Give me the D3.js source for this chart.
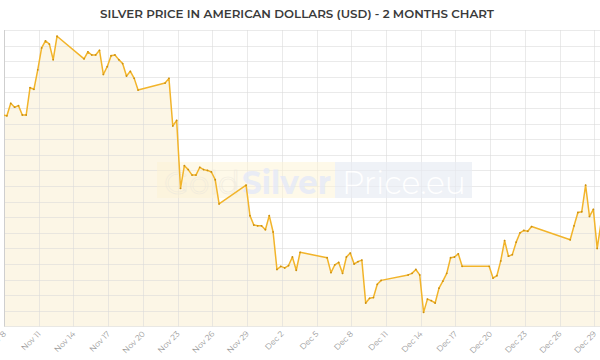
<!DOCTYPE html>
<html>
<head>
<meta charset="utf-8">
<script src="https://cdn.jsdelivr.net/npm/d3@7"></script>
<style>
  html, body { margin: 0; padding: 0; background: #fff; }
  svg { display: block; }
</style>
</head>
<body>
<svg id="chart" width="600" height="360"></svg>
<script>
const title = "SILVER PRICE IN AMERICAN DOLLARS (USD) - 2 MONTHS CHART";

const times = [
  "2021-11-07T22:00","2021-11-08T06:00","2021-11-08T14:00","2021-11-08T22:00","2021-11-09T06:00",
  "2021-11-09T14:00","2021-11-09T22:00","2021-11-10T06:00","2021-11-10T14:00","2021-11-10T22:00",
  "2021-11-11T06:00","2021-11-11T14:00","2021-11-11T22:00","2021-11-12T06:00","2021-11-12T14:00",
  "2021-11-14T22:00","2021-11-15T06:00","2021-11-15T14:00","2021-11-15T22:00","2021-11-16T06:00",
  "2021-11-16T14:00","2021-11-16T22:00","2021-11-17T06:00","2021-11-17T14:00","2021-11-17T22:00",
  "2021-11-18T06:00","2021-11-18T14:00","2021-11-18T22:00","2021-11-19T06:00","2021-11-19T14:00",
  "2021-11-21T22:00","2021-11-22T06:00","2021-11-22T14:00","2021-11-22T22:00","2021-11-23T06:00",
  "2021-11-23T14:00","2021-11-23T22:00","2021-11-24T06:00","2021-11-24T14:00","2021-11-24T22:00",
  "2021-11-25T06:00","2021-11-25T14:00","2021-11-25T22:00","2021-11-26T06:00","2021-11-26T14:00",
  "2021-11-28T22:00","2021-11-29T06:00","2021-11-29T14:00","2021-11-29T22:00","2021-11-30T06:00",
  "2021-11-30T14:00","2021-11-30T22:00","2021-12-01T06:00","2021-12-01T14:00","2021-12-01T22:00",
  "2021-12-02T06:00","2021-12-02T14:00","2021-12-02T22:00","2021-12-03T06:00","2021-12-03T14:00",
  "2021-12-05T22:00","2021-12-06T06:00","2021-12-06T14:00","2021-12-06T22:00","2021-12-07T06:00",
  "2021-12-07T14:00","2021-12-07T22:00","2021-12-08T06:00","2021-12-08T14:00","2021-12-08T22:00",
  "2021-12-09T06:00","2021-12-09T14:00","2021-12-09T22:00","2021-12-10T06:00","2021-12-10T14:00",
  "2021-12-12T22:00","2021-12-13T06:00","2021-12-13T14:00","2021-12-13T22:00","2021-12-14T06:00",
  "2021-12-14T14:00","2021-12-14T22:00","2021-12-15T06:00","2021-12-15T14:00","2021-12-15T22:00",
  "2021-12-16T06:00","2021-12-16T14:00","2021-12-16T22:00","2021-12-17T06:00","2021-12-17T14:00",
  "2021-12-19T22:00","2021-12-20T06:00","2021-12-20T14:00","2021-12-20T22:00","2021-12-21T06:00",
  "2021-12-21T14:00","2021-12-21T22:00","2021-12-22T06:00","2021-12-22T14:00","2021-12-22T22:00",
  "2021-12-23T06:00","2021-12-23T14:00",
  "2021-12-26T22:00","2021-12-27T06:00","2021-12-27T14:00","2021-12-27T22:00","2021-12-28T06:00",
  "2021-12-28T14:00","2021-12-28T22:00","2021-12-29T06:00","2021-12-29T14:00"
];

const prices = [
  23.91,23.90,24.06,24.01,24.03,
  23.91,23.91,24.26,24.24,24.49,
  24.77,24.86,24.82,24.62,24.92,
  24.63,24.72,24.68,24.68,24.74,
  24.43,24.53,24.67,24.68,24.62,
  24.57,24.41,24.47,24.38,24.23,
  24.32,24.38,23.77,23.84,22.97,
  23.26,23.21,23.14,23.14,23.24,
  23.21,23.20,23.18,23.08,22.77,
  23.01,22.62,22.50,22.49,22.49,
  22.44,22.62,22.41,21.93,21.97,
  21.95,21.98,22.09,21.92,22.15,
  22.08,21.89,21.99,22.02,21.88,
  22.09,22.14,22.00,22.03,22.05,
  21.50,21.56,21.57,21.74,21.79,
  21.86,21.88,21.93,21.86,21.38,
  21.55,21.53,21.50,21.69,21.78,
  21.88,22.08,22.09,22.13,21.97,
  21.97,21.82,21.85,22.04,22.30,
  22.10,22.12,22.28,22.40,22.43,
  22.42,22.48,
  22.31,22.49,22.66,22.67,23.01,
  22.61,22.70,22.20,22.53
];

const tickDates = ["2021-11-08","2021-11-11","2021-11-14","2021-11-17","2021-11-20","2021-11-23",
  "2021-11-26","2021-11-29","2021-12-02","2021-12-05","2021-12-08","2021-12-11","2021-12-14",
  "2021-12-17","2021-12-20","2021-12-23","2021-12-26","2021-12-29"];
const tickLabels = ["Nov 8","Nov 11","Nov 14","Nov 17","Nov 20","Nov 23","Nov 26","Nov 29",
  "Dec 2","Dec 5","Dec 8","Dec 11","Dec 14","Dec 17","Dec 20","Dec 23","Dec 26","Dec 29"];

const yMin = 21.2, yMax = 25.0, yStep = 0.2;

(function () {
const parseT = d3.utcParse("%Y-%m-%dT%H:%M");
const parseD = d3.utcParse("%Y-%m-%d");
const data = times.map((t, i) => ({ t: parseT(t), v: prices[i] }));
const ticks = tickDates.map(parseD);

const svg = d3.select("#chart");
const pLeft = 4, pTop = 30, pBottom = 326.4;

const x = d3.scaleUtc()
  .domain([ticks[0], ticks[ticks.length - 1]])
  .range([pLeft, 594.3]);
const y = d3.scaleLinear().domain([yMin, yMax]).range([pBottom, pTop]);

const yTicks = d3.range(0, Math.round((yMax - yMin) / yStep) + 1).map(i => yMin + i * yStep);

svg.append("defs").append("clipPath").attr("id", "clip")
  .append("rect").attr("x", pLeft).attr("y", 0).attr("width", 600 - pLeft).attr("height", pBottom + 1);

// Title
svg.append("text")
  .attr("x", 297).attr("y", 17.5)
  .attr("text-anchor", "middle")
  .attr("font-family", "Montserrat, 'Open Sans', 'Noto Sans', sans-serif")
  .attr("font-weight", 600)
  .attr("font-size", 11.6)
  .attr("fill", "#3a3a3a")
  .attr("textLength", 394)
  .attr("lengthAdjust", "spacingAndGlyphs")
  .text(title);

// Area
const area = d3.area().x(d => x(d.t)).y0(pBottom).y1(d => y(d.v));
svg.append("path").datum(data)
  .attr("clip-path", "url(#clip)")
  .attr("d", area)
  .attr("fill", "#fcf6e6");

// Grid
const grid = svg.append("g");
grid.selectAll("line.h").data(yTicks).join("line")
  .attr("x1", pLeft).attr("x2", 600)
  .attr("y1", d => Math.round(y(d)) + 0.5).attr("y2", d => Math.round(y(d)) + 0.5)
  .attr("stroke", "#d9d9d9").attr("stroke-opacity", 0.55).attr("stroke-width", 1);
grid.selectAll("line.v").data(ticks).join("line")
  .attr("x1", d => Math.round(x(d)) + 0.5).attr("x2", d => Math.round(x(d)) + 0.5)
  .attr("y1", pTop).attr("y2", pBottom)
  .attr("stroke", "#d9d9d9").attr("stroke-opacity", 0.55).attr("stroke-width", 1);

// Left axis line
svg.append("line")
  .attr("x1", pLeft + 0.5).attr("x2", pLeft + 0.5).attr("y1", pTop).attr("y2", pBottom)
  .attr("stroke", "#cfcfcf");

// Watermark
const wm = svg.append("g").attr("opacity", 0.85);
wm.append("rect").attr("x", 157).attr("y", 162).attr("width", 178).attr("height", 36)
  .attr("fill", "#fdf4d6").attr("opacity", 0.6);
wm.append("rect").attr("x", 335).attr("y", 162).attr("width", 137).attr("height", 36)
  .attr("fill", "#e9ecf4").attr("opacity", 0.8);
wm.append("text").attr("x", 164).attr("y", 193.5)
  .attr("font-family", "Montserrat, 'Open Sans', sans-serif").attr("font-size", 32)
  .attr("font-weight", 400)
  .attr("fill", "none").attr("stroke", "#efeadb").attr("stroke-width", 0.7)
  .attr("textLength", 76).attr("lengthAdjust", "spacingAndGlyphs")
  .text("Gold");
wm.append("text").attr("x", 242).attr("y", 193.5)
  .attr("font-family", "Montserrat, 'Open Sans', sans-serif").attr("font-size", 32)
  .attr("font-weight", 700)
  .attr("fill", "#e6e9f4")
  .attr("textLength", 89).attr("lengthAdjust", "spacingAndGlyphs")
  .text("Silver");
wm.append("text").attr("x", 342).attr("y", 193.5)
  .attr("font-family", "Montserrat, 'Open Sans', sans-serif").attr("font-size", 32)
  .attr("font-weight", 300)
  .attr("fill", "#ffffff")
  .attr("textLength", 124).attr("lengthAdjust", "spacingAndGlyphs")
  .text("Price.eu");

// Line
const line = d3.line().x(d => x(d.t)).y(d => y(d.v));
svg.append("path").datum(data)
  .attr("clip-path", "url(#clip)")
  .attr("d", line)
  .attr("fill", "none")
  .attr("stroke", "#f2b42a")
  .attr("stroke-width", 1.5)
  .attr("stroke-linejoin", "round");

svg.append("g").attr("clip-path", "url(#clip)")
  .selectAll("circle").data(data).join("circle")
  .attr("cx", d => x(d.t)).attr("cy", d => y(d.v)).attr("r", 0.9)
  .attr("fill", "#c98f12");

// X axis labels
const xAxis = d3.axisBottom(x).tickValues(ticks)
  .tickFormat((d, i) => tickLabels[i]).tickSize(0).tickPadding(0);
const gx = svg.append("g").attr("transform", `translate(0,${pBottom})`).call(xAxis);
gx.select(".domain").remove();
gx.selectAll("text")
  .attr("font-family", "Montserrat, 'Open Sans', sans-serif")
  .attr("font-size", 8)
  .attr("fill", "#999")
  .attr("text-anchor", "end")
  .attr("dy", null).attr("y", 0)
  .attr("transform", "translate(2,8) rotate(-45)");
})();
</script>
</body>
</html>
